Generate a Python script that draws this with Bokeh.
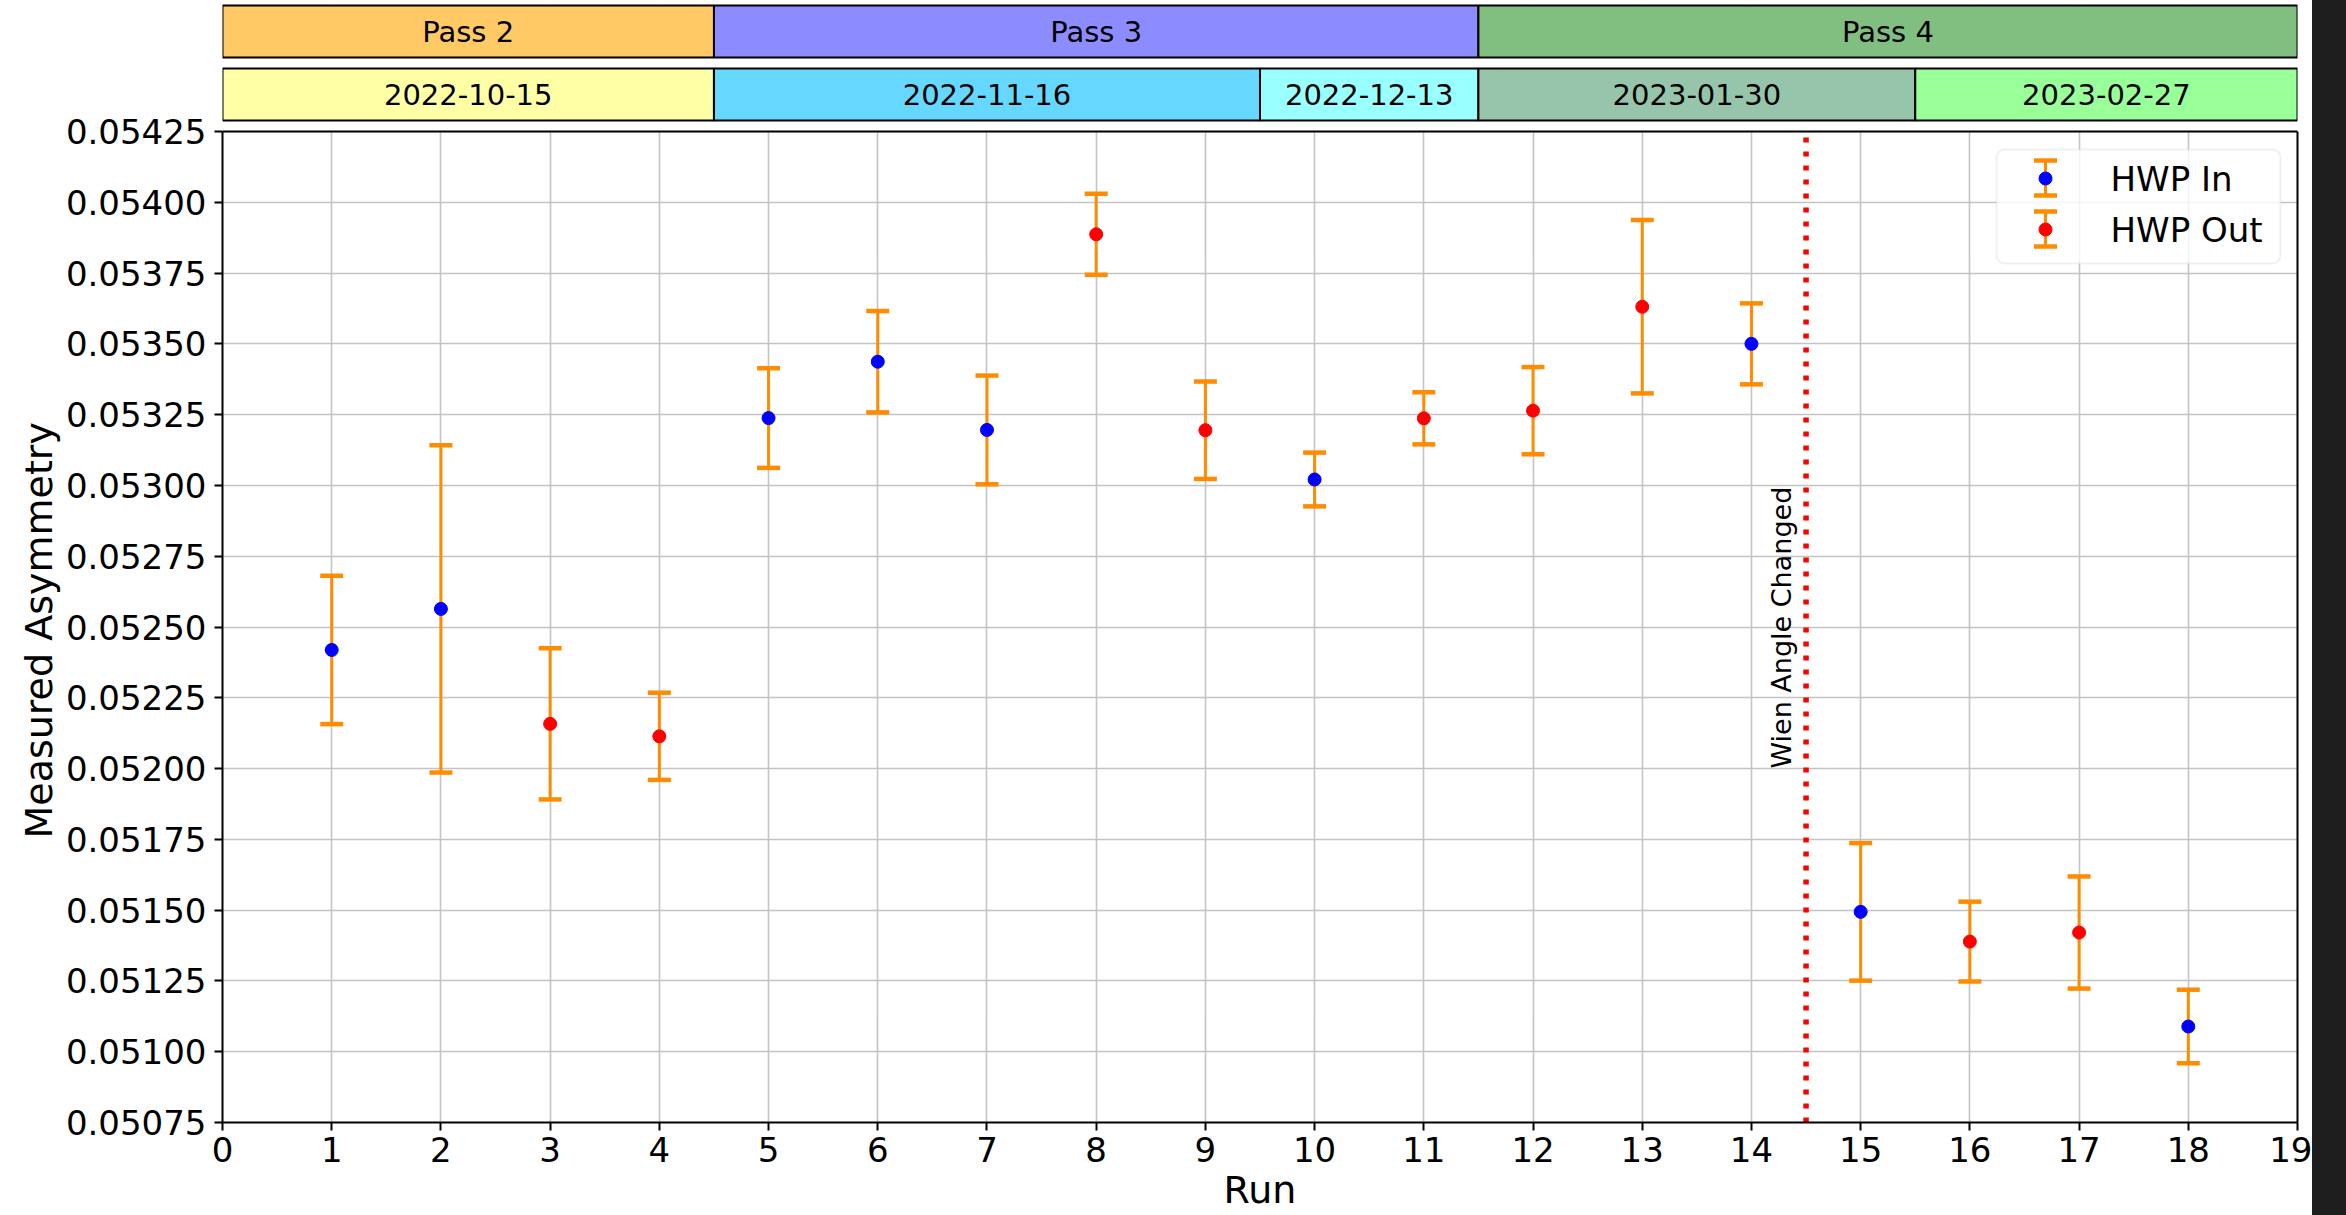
import math
from bokeh.plotting import figure
from bokeh.layouts import row
from bokeh.models import (Range1d, FixedTicker, PrintfTickFormatter, LinearAxis,
                          BoxAnnotation, Label, Spacer, Title)
from bokeh.core.properties import value
from bokeh.embed import file_html
from bokeh.resources import INLINE

# ---------------- data ----------------
runs = [1, 2, 3, 4, 5, 6, 7, 8, 9, 10, 11, 12, 13, 14, 15, 16, 17, 18]
asym = [0.052419, 0.052564, 0.052158, 0.052114, 0.053238, 0.053437,
        0.053196, 0.053887, 0.053195, 0.053021, 0.053237, 0.053264,
        0.053631, 0.053500, 0.051494, 0.051389, 0.051421, 0.051089]
err = [0.000262, 0.000578, 0.000267, 0.000154, 0.000176, 0.000179,
       0.000192, 0.000143, 0.000172, 0.000095, 0.000092, 0.000154,
       0.000306, 0.000143, 0.000243, 0.000141, 0.000198, 0.000130]
hwp = ["In", "In", "Out", "Out", "In", "In", "In", "Out", "Out",
       "In", "Out", "Out", "Out", "In", "In", "Out", "Out", "In"]

pass_labels = ["Pass 2", "Pass 3", "Pass 4"]
pass_start = [0, 4.5, 11.5]
pass_end = [4.5, 11.5, 19]
pass_colors = ["#FFC966", "#8C8CFF", "#80BF80"]

date_labels = ["2022-10-15", "2022-11-16", "2022-12-13", "2023-01-30", "2023-02-27"]
date_start = [0, 4.5, 9.5, 11.5, 15.5]
date_end = [4.5, 9.5, 11.5, 15.5, 19]
date_colors = ["#FFFFA6", "#66D8FF", "#99FFFF", "#96C5AB", "#99FF99"]

x_ticks = [0, 1, 2, 3, 4, 5, 6, 7, 8, 9, 10, 11, 12, 13, 14, 15, 16, 17, 18, 19]
y_ticks = [0.05075, 0.05100, 0.05125, 0.05150, 0.05175, 0.05200, 0.05225,
           0.05250, 0.05275, 0.05300, 0.05325, 0.05350, 0.05375, 0.05400, 0.05425]
x_min, x_max = 0, 19
y_min, y_max = 0.05075, 0.05425
wien_x = 14.5
wien_text_y = 0.05200
wien_label = "Wien Angle Changed"
x_title = "Run"
y_title = "Measured Asymmetry"

legend_labels = ["HWP In", "HWP Out"]
legend_colors = ["blue", "red"]
ERR_COLOR = "#FF8C00"
FONT = "DejaVu Sans"

# ---------------- geometry (pixels) ----------------
FRAME_L = 222          # left edge of data area on the page
DATA_TOP = 131         # top of data area on the page
DATA_W, DATA_H = 2075, 991
FIG_W, FIG_H = 2312, 1215
FRAME_H = DATA_TOP + DATA_H
PPX = DATA_W / (x_max - x_min)
PPY = DATA_H / (y_max - y_min)
y_top = y_max + DATA_TOP / PPY


def X(px):
    return x_min + (px - FRAME_L) / PPX


def Y(py):
    return y_max - (py - DATA_TOP) / PPY


p = figure(frame_width=DATA_W, frame_height=FRAME_H,
           x_range=Range1d(x_min, x_max), y_range=Range1d(y_min, y_top),
           output_backend="svg", toolbar_location=None,
           min_border_left=FRAME_L, min_border_right=FIG_W - FRAME_L - DATA_W,
           min_border_top=0, min_border_bottom=FIG_H - FRAME_H)
p.background_fill_color = "white"
p.border_fill_color = "white"
p.outline_line_color = None

p.xaxis.ticker = FixedTicker(ticks=x_ticks)
p.yaxis.ticker = FixedTicker(ticks=y_ticks)
p.yaxis.formatter = PrintfTickFormatter(format="%.5f")
p.yaxis.bounds = (y_min, y_max)
for ax in (p.xaxis[0], p.yaxis[0]):
    ax.major_label_text_font = FONT
    ax.major_label_text_font_size = "34px"
    ax.major_label_text_color = "black"
    ax.axis_line_color = "black"
    ax.axis_line_width = 2
    ax.major_tick_line_color = "black"
    ax.major_tick_line_width = 2
    ax.major_tick_out = 8
    ax.major_tick_in = 0
    ax.minor_tick_line_color = None
p.xaxis.major_label_standoff = 6
p.yaxis.major_label_standoff = 8
p.xaxis.axis_label = x_title
p.xaxis.axis_label_text_font = FONT
p.xaxis.axis_label_text_font_size = "38px"
p.xaxis.axis_label_text_font_style = "normal"
p.xaxis.axis_label_text_color = "black"
p.xaxis.axis_label_standoff = 3

right_ax = LinearAxis(bounds=(y_min, y_max), ticker=FixedTicker(ticks=[]),
                      major_label_text_font_size="0px", major_tick_line_color=None,
                      minor_tick_line_color=None, axis_line_color="black",
                      axis_line_width=2, major_label_standoff=0)
p.add_layout(right_ax, "right")

# y title, placed on the left and shifted so it is centred on the data area
p.add_layout(Title(text=y_title, align="left", offset=284, text_font=FONT,
                   text_font_size="38px", text_font_style="normal",
                   text_color="black", standoff=4), "left")

p.xgrid.ticker = FixedTicker(ticks=x_ticks)
p.ygrid.ticker = FixedTicker(ticks=y_ticks)
for g in (p.xgrid[0], p.ygrid[0]):
    g.grid_line_color = "#c4c4c4"
    g.grid_line_width = 1.6

# header region: hide grid, draw top edge of data area, then the bars
p.quad(left=[x_min], right=[x_max], bottom=[y_max], top=[y_top],
       fill_color="white", line_color=None)
p.segment(x0=[x_min], y0=[y_max], x1=[x_max], y1=[y_max], line_color="black", line_width=2)

p.quad(left=pass_start, right=pass_end, bottom=Y(57), top=Y(5),
       fill_color=pass_colors, line_color="black", line_width=2)
p.text(x=[(a + b) / 2 for a, b in zip(pass_start, pass_end)], y=[Y(31)] * len(pass_labels),
       text=pass_labels, text_align="center", text_baseline="middle",
       text_font=value(FONT), text_font_size="29px", text_color="black")
p.quad(left=date_start, right=date_end, bottom=Y(120), top=Y(68),
       fill_color=date_colors, line_color="black", line_width=2)
p.text(x=[(a + b) / 2 for a, b in zip(date_start, date_end)], y=[Y(94)] * len(date_labels),
       text=date_labels, text_align="center", text_baseline="middle",
       text_font=value(FONT), text_font_size="29px", text_color="black")

# Wien angle line and label
p.segment(x0=[wien_x], y0=[y_min], x1=[wien_x], y1=[y_max], line_color="red",
          line_width=5.5, line_dash="5 9")
p.text(x=[wien_x], y=[wien_text_y], text=[wien_label], angle=math.pi / 2,
       x_offset=-9, text_align="left", text_baseline="bottom",
       text_font=value(FONT), text_font_size="27px", text_color="black")

# error bars
lower = [a - e for a, e in zip(asym, err)]
upper = [a + e for a, e in zip(asym, err)]
p.segment(x0=runs, y0=lower, x1=runs, y1=upper, line_color=ERR_COLOR, line_width=3)
p.scatter(x=runs + runs, y=lower + upper, marker="dash", size=23,
          line_color=ERR_COLOR, line_width=4.5)

for state, col in zip(["In", "Out"], legend_colors):
    xs = [r for r, s in zip(runs, hwp) if s == state]
    ys = [a for a, s in zip(asym, hwp) if s == state]
    p.scatter(x=xs, y=ys, marker="circle", size=13, fill_color=col, line_color=col)

# ---------------- legend (matplotlib style) ----------------
p.add_layout(BoxAnnotation(left=X(1996), right=X(2280), top=Y(149), bottom=Y(263),
                           fill_color="white", fill_alpha=0.8,
                           line_color="#cccccc", line_width=2, border_radius=8))
item_dot = [178, 229]
gx = X(2045)
for cy, lab, col in zip(item_dot, legend_labels, legend_colors):
    r1 = p.segment(x0=[gx], y0=[Y(cy - 18)], x1=[gx], y1=[Y(cy + 17)],
                   line_color=ERR_COLOR, line_width=3)
    r2 = p.scatter(x=[gx, gx], y=[Y(cy - 18), Y(cy + 17)], marker="dash",
                   size=23, line_color=ERR_COLOR, line_width=4.5)
    r3 = p.scatter(x=[gx], y=[Y(cy)], marker="circle", size=13,
                   fill_color=col, line_color=col)
    for r in (r1, r2, r3):
        r.level = "overlay"
    p.add_layout(Label(x=X(2110), y=Y(cy), text=lab, text_align="left",
                       text_baseline="middle", text_font=FONT,
                       text_font_size="34px", text_color="black", level="overlay"))

edge = Spacer(width=2346 - FIG_W, height=FIG_H, styles={"background-color": "#1e1e1e"})
layout = row(p, edge)
open("out.html", "w").write(file_html(layout, INLINE))
